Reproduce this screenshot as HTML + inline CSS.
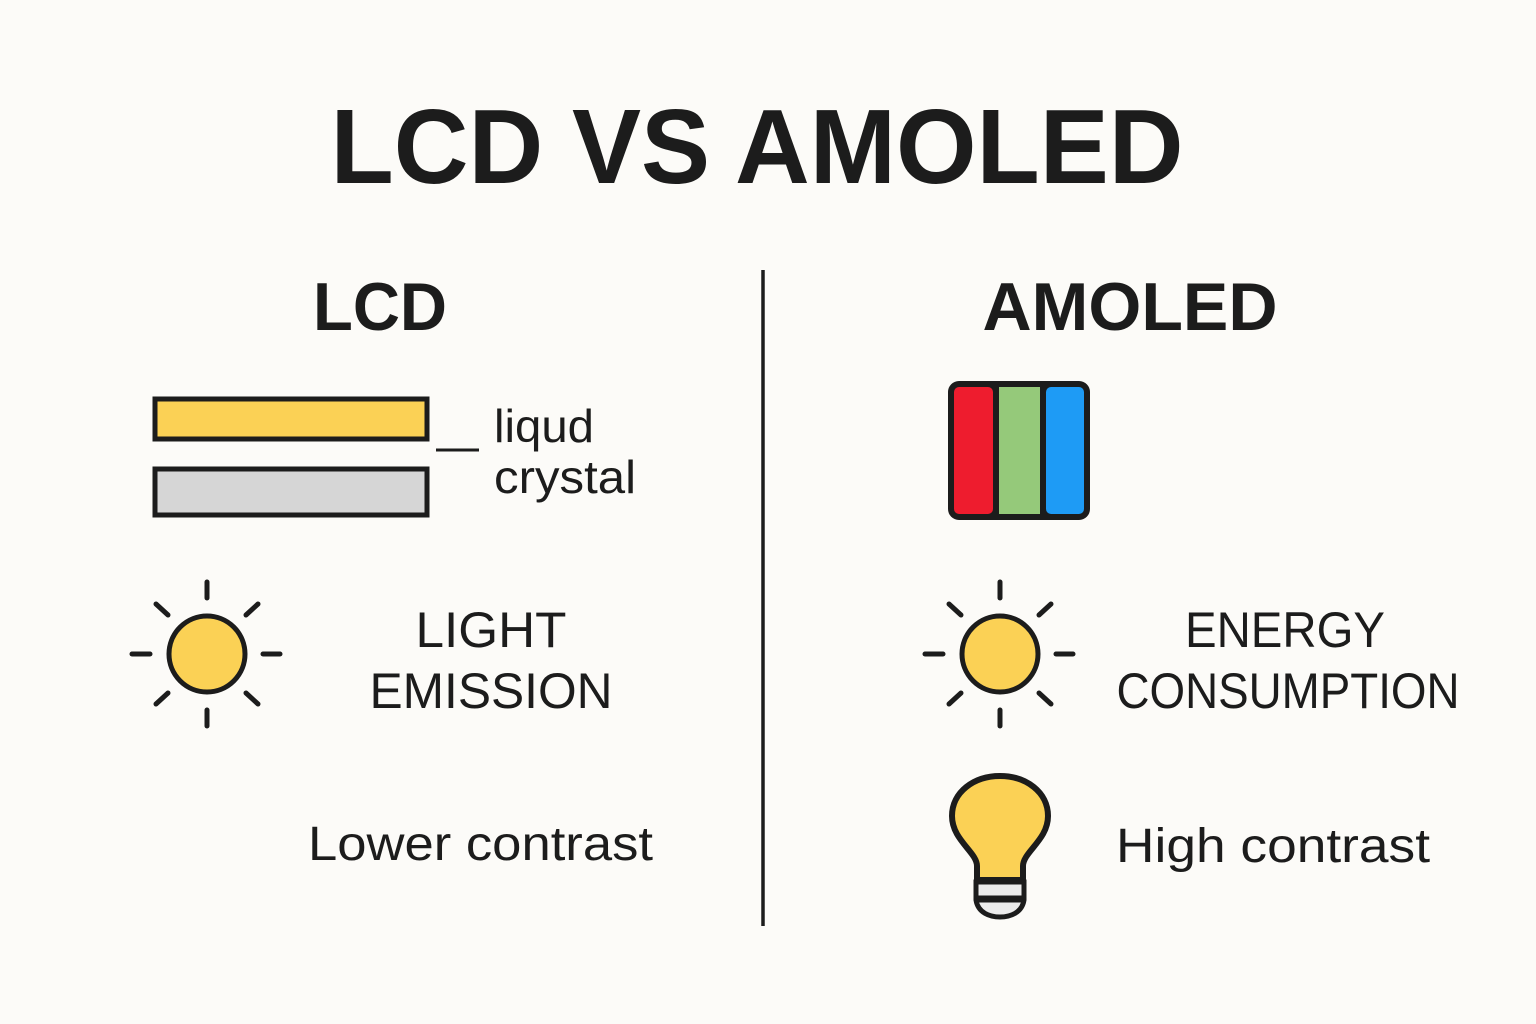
<!DOCTYPE html>
<html><head><meta charset="utf-8"><style>
html,body{margin:0;padding:0;background:#fcfbf8;}
svg{display:block}
text{font-family:"Liberation Sans",sans-serif;fill:#1c1c1c}
</style></head><body>
<svg width="1536" height="1024" viewBox="0 0 1536 1024" xmlns="http://www.w3.org/2000/svg">
<rect width="1536" height="1024" fill="#fcfbf8"/>
<text x="757" y="183" font-size="106" font-weight="bold" text-anchor="middle" textLength="853" lengthAdjust="spacingAndGlyphs">LCD VS AMOLED</text>
<text x="380" y="330" font-size="68" font-weight="bold" text-anchor="middle" textLength="134" lengthAdjust="spacingAndGlyphs">LCD</text>
<text x="1130" y="330" font-size="68" font-weight="bold" text-anchor="middle" textLength="295" lengthAdjust="spacingAndGlyphs">AMOLED</text>
<line x1="763" y1="270" x2="763" y2="926" stroke="#1c1c1c" stroke-width="3.5"/>
<rect x="155" y="399" width="272" height="40" fill="#fbd155" stroke="#1c1c1c" stroke-width="5"/>
<rect x="155" y="469" width="272" height="46" fill="#d6d6d6" stroke="#1c1c1c" stroke-width="5"/>
<line x1="436" y1="450" x2="479" y2="450" stroke="#1c1c1c" stroke-width="3"/>
<text x="494" y="442" font-size="46" textLength="100" lengthAdjust="spacingAndGlyphs">liqud</text>
<text x="494" y="493" font-size="46" textLength="142" lengthAdjust="spacingAndGlyphs">crystal</text>
<rect x="948" y="381" width="142" height="139" rx="11" fill="#1c1c1c"/>
<rect x="954" y="387" width="39" height="127" rx="5" fill="#ee1c2e"/>
<rect x="999" y="387" width="41" height="127" fill="#95c97a"/>
<rect x="1046" y="387" width="38" height="127" rx="5" fill="#1e9bf5"/>
<g id="sun" stroke="#1c1c1c" stroke-width="5" stroke-linecap="round">
<circle cx="207" cy="654" r="38" fill="#fbd155"/>
<line x1="207" y1="582" x2="207" y2="598"/>
<line x1="207" y1="710" x2="207" y2="726"/>
<line x1="132" y1="654" x2="150" y2="654"/>
<line x1="263" y1="654" x2="280" y2="654"/>
<line x1="156" y1="604" x2="168" y2="615"/>
<line x1="258" y1="604" x2="246" y2="615"/>
<line x1="156" y1="704" x2="168" y2="693"/>
<line x1="258" y1="704" x2="246" y2="693"/>
</g>
<use href="#sun" x="793" y="0"/>
<text x="491" y="647" font-size="50" text-anchor="middle" textLength="151" lengthAdjust="spacingAndGlyphs">LIGHT</text>
<text x="491" y="708" font-size="50" text-anchor="middle" textLength="243" lengthAdjust="spacingAndGlyphs">EMISSION</text>
<text x="1285" y="647" font-size="50" text-anchor="middle" textLength="200" lengthAdjust="spacingAndGlyphs">ENERGY</text>
<text x="1288" y="708" font-size="50" text-anchor="middle" textLength="343" lengthAdjust="spacingAndGlyphs">CONSUMPTION</text>
<text x="308" y="860" font-size="48" textLength="345" lengthAdjust="spacingAndGlyphs">Lower contrast</text>
<text x="1116" y="862" font-size="48" textLength="314" lengthAdjust="spacingAndGlyphs">High contrast</text>
<path d="M977 880 L977 866 C977 852 952 840 952 816 C952 792 974 776 1000 776 C1026 776 1048 792 1048 816 C1048 840 1023 852 1023 866 L1023 880 Z" fill="#fbd155" stroke="#1c1c1c" stroke-width="6" stroke-linejoin="round"/>
<path d="M976 882 L1024 882 L1024 898 L976 898 Z" fill="#ececec" stroke="#1c1c1c" stroke-width="5"/>
<path d="M976 900 L1024 900 C1022 913 1010 917 1000 917 C990 917 978 913 976 900 Z" fill="#ececec" stroke="#1c1c1c" stroke-width="5" stroke-linejoin="round"/>
</svg>
</body></html>
